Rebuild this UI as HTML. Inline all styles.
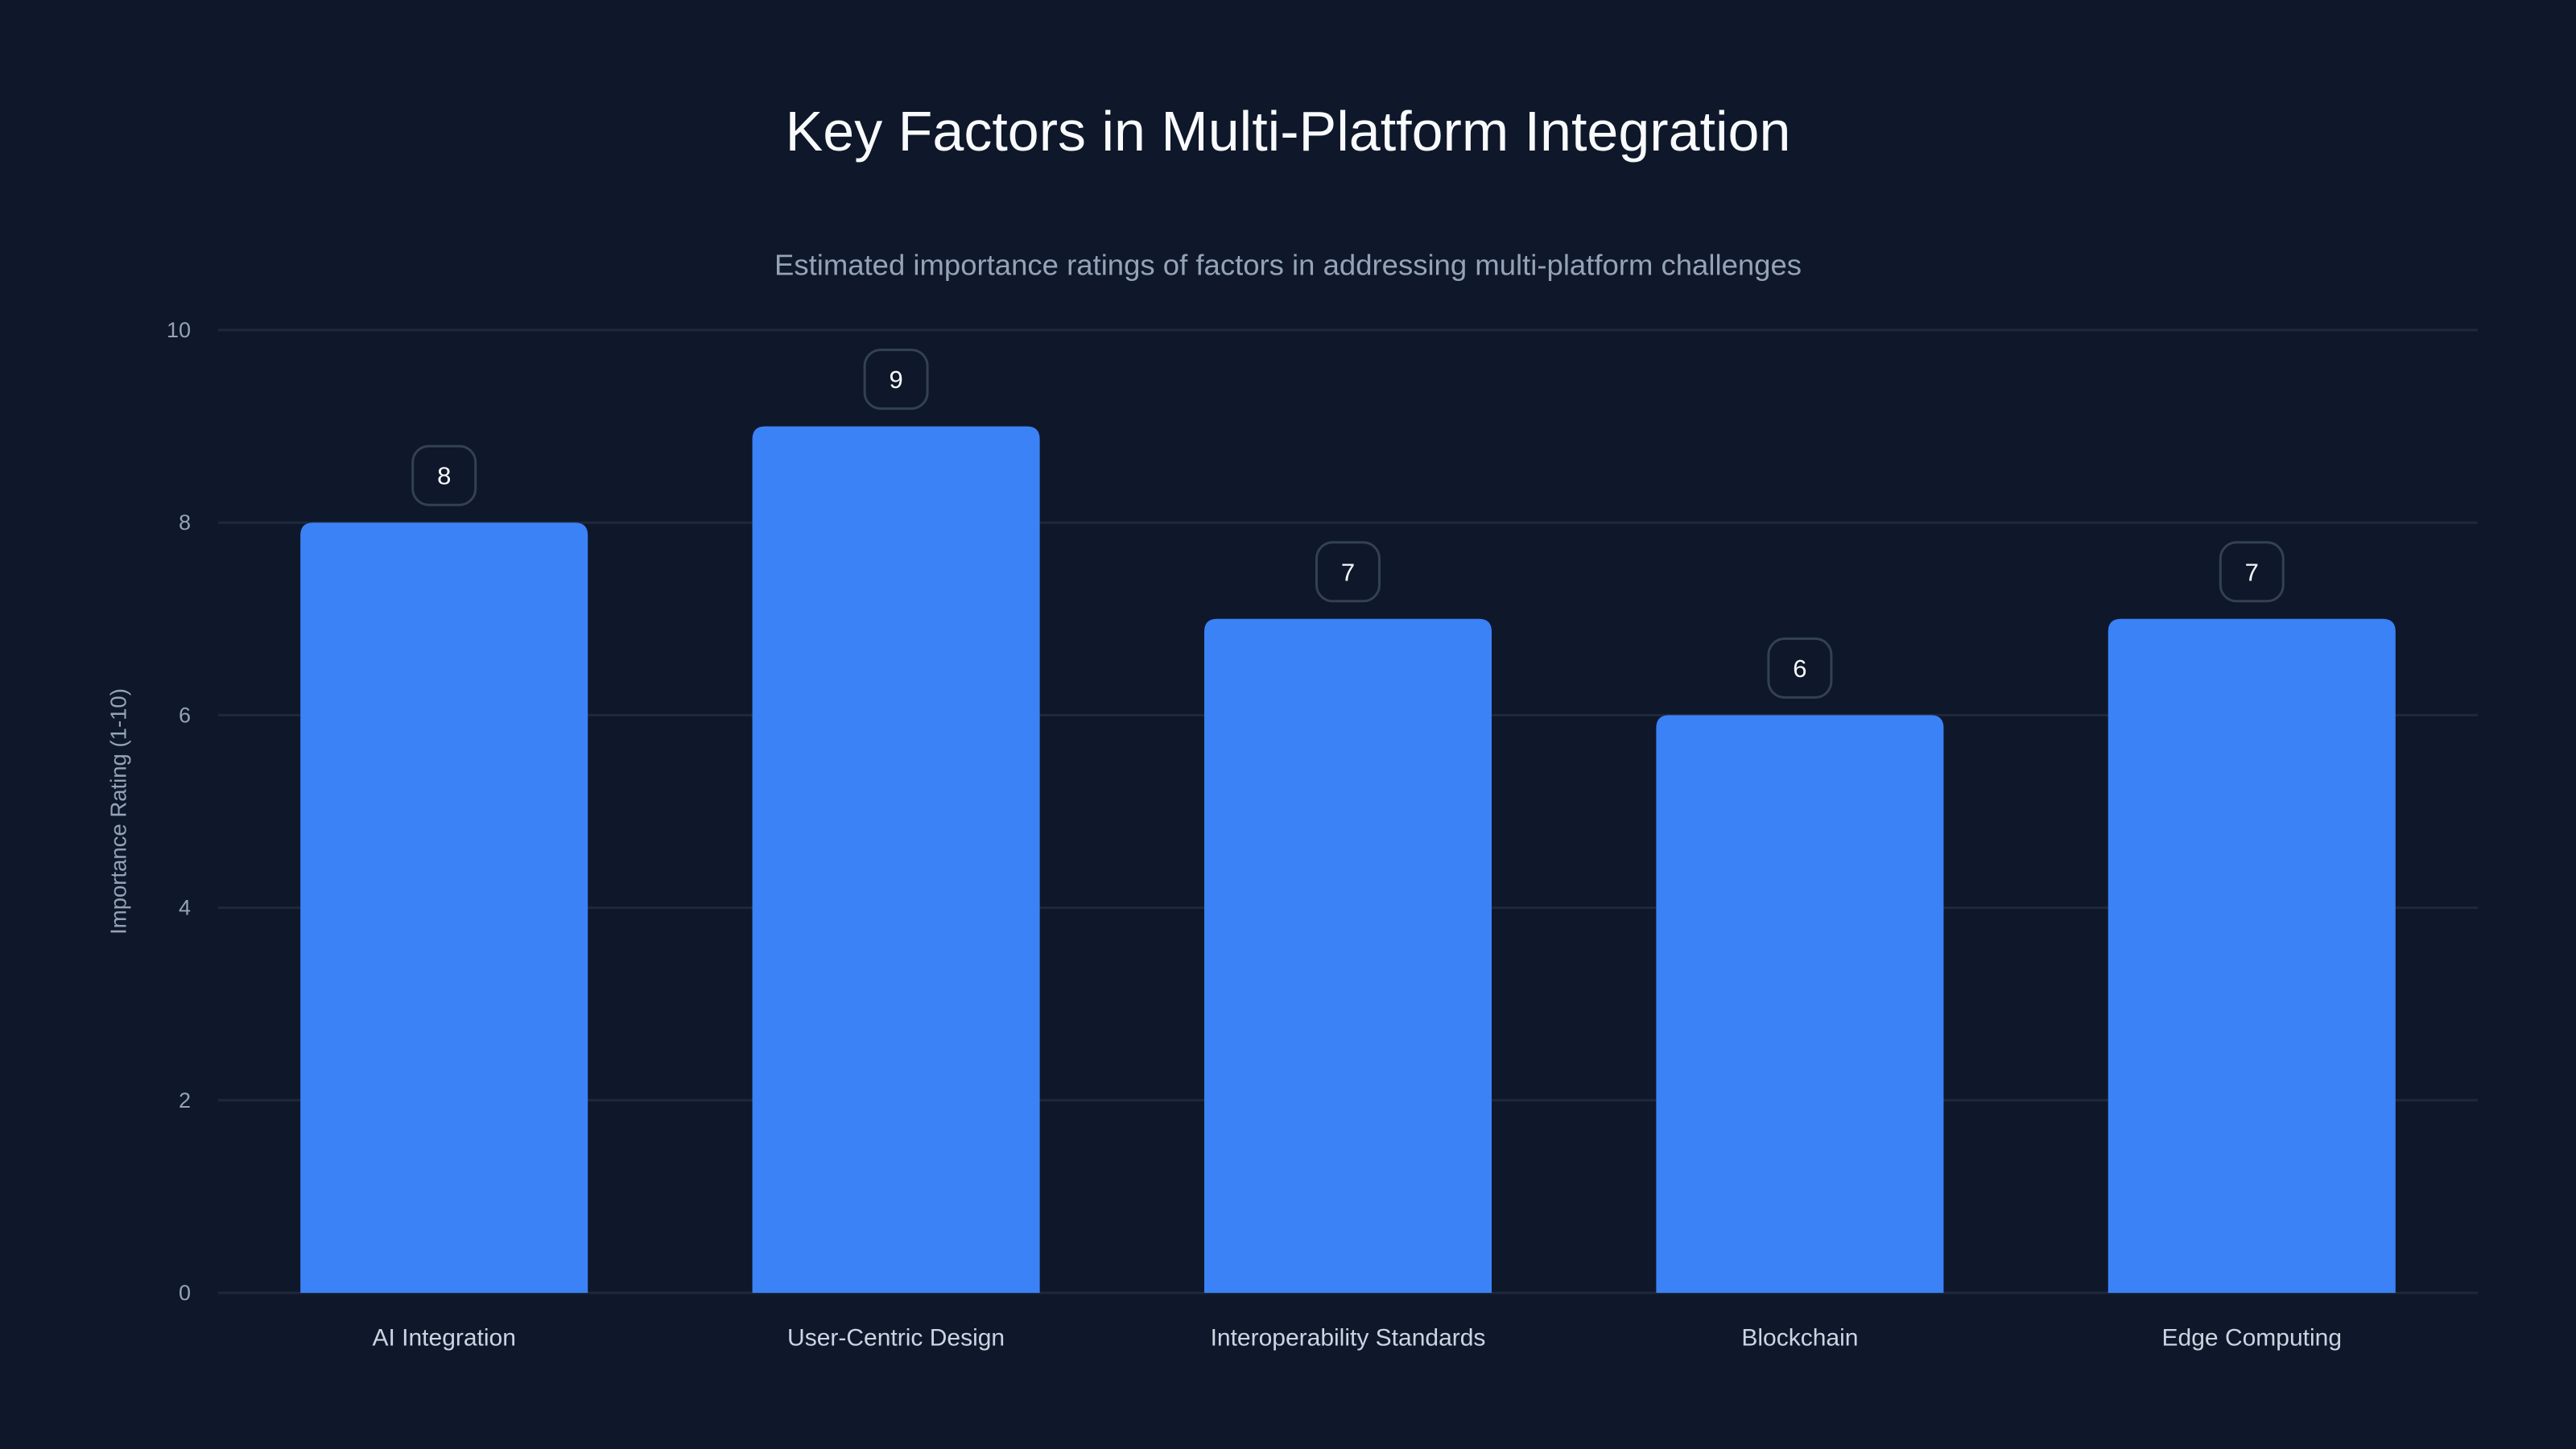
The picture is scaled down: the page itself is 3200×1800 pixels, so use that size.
<!DOCTYPE html>
<html><head><meta charset="utf-8"><style>
html,body{margin:0;padding:0;background:#0f172a;}
svg{display:block;font-family:"Liberation Sans",sans-serif;}
</style></head><body>
<svg id="chart" width="3200" height="1800" viewBox="0 0 3200 1800">
<rect x="0" y="0" width="3200" height="1800" fill="#0f172a"/>
<text x="1600" y="163" text-anchor="middle" dominant-baseline="central" font-size="70" fill="#f8fafc">Key Factors in Multi-Platform Integration</text>
<text x="1600" y="329" text-anchor="middle" dominant-baseline="central" font-size="36.5" fill="#94a3b8">Estimated importance ratings of factors in addressing multi-platform challenges</text>
<text x="147" y="1008" text-anchor="middle" dominant-baseline="central" font-size="27.5" fill="#94a3b8" transform="rotate(-90 147 1008)">Importance Rating (1-10)</text>
<g id="grid"></g><g id="bars"></g><g id="labels"></g>
</svg>
<script>
const categories = ["AI Integration","User-Centric Design","Interoperability Standards","Blockchain","Edge Computing"];
const values = [8,9,7,6,7];
const yTicks = [0,2,4,6,8,10];
const yMax = 10;

const NS="http://www.w3.org/2000/svg";
const L=271,R=3078,Y0=1606,Y10=410;
const band=(R-L)/categories.length, bw=band*0.636;
function y(v){return Y0-(Y0-Y10)*v/yMax;}
function xc(i){return L+band*(i+0.5);}
function mk(tag,attrs,parent){const e=document.createElementNS(NS,tag);for(const k in attrs)e.setAttribute(k,attrs[k]);parent.appendChild(e);return e;}
const grid=document.getElementById('grid'),bars=document.getElementById('bars'),labels=document.getElementById('labels');
yTicks.forEach(t=>{
  const ln=mk('line',{x1:L,x2:R,y1:y(t),y2:y(t),stroke:'#1e293b','stroke-width':3},grid);
  
  
  const tx=mk('text',{x:237,y:y(t),'text-anchor':'end','dominant-baseline':'central','font-size':27,fill:'#94a3b8'},grid);
  tx.textContent=t;
  
  
});
categories.forEach((c,i)=>{
  const v=values[i],top=y(v),x0=xc(i)-bw/2,r=16;
  const p=mk('path',{d:`M${x0},${Y0}V${top+r}Q${x0},${top} ${x0+r},${top}H${x0+bw-r}Q${x0+bw},${top} ${x0+bw},${top+r}V${Y0}Z`,fill:'#3b82f6'},bars);
  
  
  const bx=mk('rect',{x:xc(i)-39,y:top-95,width:78,height:73,rx:20,fill:'#0f172a',stroke:'#334155','stroke-width':3},labels);
  
  
  const vt=mk('text',{x:xc(i),y:top-58,'text-anchor':'middle','dominant-baseline':'central','font-size':31,fill:'#f8fafc'},labels);
  vt.textContent=v;
  
  
  const ct=mk('text',{x:xc(i),y:1662,'text-anchor':'middle','dominant-baseline':'central','font-size':30,fill:'#cbd5e1'},labels);
  ct.textContent=c;
  
  
});
</script>
</body></html>
